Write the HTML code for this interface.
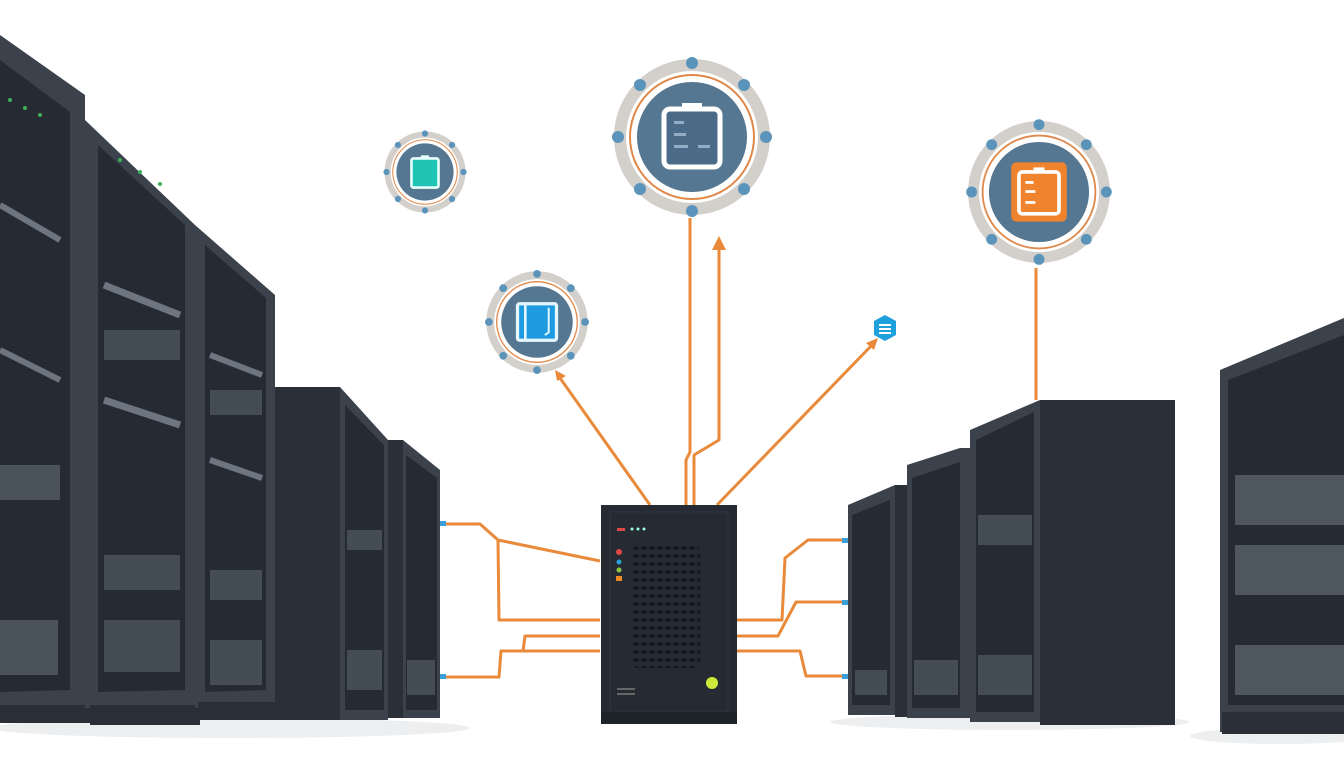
<!DOCTYPE html>
<html><head><meta charset="utf-8"><style>
html,body{margin:0;padding:0;background:#fff;width:1344px;height:768px;overflow:hidden}
svg{display:block}
</style></head><body>
<svg width="1344" height="768" viewBox="0 0 1344 768" xmlns="http://www.w3.org/2000/svg">
<defs>
<g id="node">
  <circle r="72" fill="none" stroke="#d3d0cb" stroke-width="12"/>
  <circle r="62" fill="none" stroke="#e0884a" stroke-width="2"/>
  <circle r="58" fill="#fff"/>
  <circle r="55" fill="#557792"/>
  <g fill="#5b94bb">
    <circle cx="0" cy="-74" r="6"/><circle cx="0" cy="74" r="6"/>
    <circle cx="-74" cy="0" r="6"/><circle cx="74" cy="0" r="6"/>
    <circle cx="-52" cy="-52" r="6"/><circle cx="52" cy="-52" r="6"/>
    <circle cx="-52" cy="52" r="6"/><circle cx="52" cy="52" r="6"/>
  </g>
</g>
<pattern id="grille" width="8" height="8" patternUnits="userSpaceOnUse">
  <rect width="8" height="8" fill="#262b33"/><ellipse cx="4" cy="4" rx="3" ry="2" fill="#15181d"/>
</pattern>
</defs>

<!-- floor shadows -->
<ellipse cx="230" cy="728" rx="240" ry="10" fill="#eceef0"/>
<ellipse cx="1010" cy="722" rx="180" ry="8" fill="#eceef0"/>
<ellipse cx="1280" cy="736" rx="90" ry="8" fill="#eceef0"/>

<!-- LEFT RACKS -->
<!-- rack 1 -->
<polygon points="0,35 85,95 85,708 0,712" fill="#3b424c"/>
<polygon points="0,60 70,112 70,690 0,692" fill="#262b33"/>
<g stroke="#6c7580" stroke-width="6"><line x1="0" y1="205" x2="60" y2="240"/><line x1="0" y1="350" x2="60" y2="380"/></g>
<g fill="#4a525c"><rect x="0" y="620" width="58" height="55"/><rect x="0" y="465" width="60" height="35"/></g>
<g fill="#3fae5a"><circle cx="10" cy="100" r="2"/><circle cx="25" cy="108" r="2"/><circle cx="40" cy="115" r="2"/></g>
<rect x="0" y="705" width="90" height="18" fill="#2a2f37"/>
<!-- rack 2 -->
<polygon points="85,120 195,225 195,708 85,708" fill="#3b424c"/>
<polygon points="98,145 185,225 185,690 98,692" fill="#262b33"/>
<g stroke="#6c7580" stroke-width="7"><line x1="104" y1="285" x2="180" y2="315"/><line x1="104" y1="400" x2="180" y2="425"/></g>
<g fill="#444c56"><rect x="104" y="330" width="76" height="30"/><rect x="104" y="555" width="76" height="35"/><rect x="104" y="620" width="76" height="52"/></g>
<g fill="#3fae5a"><circle cx="120" cy="160" r="2"/><circle cx="140" cy="172" r="2"/><circle cx="160" cy="184" r="2"/></g>
<rect x="90" y="705" width="110" height="20" fill="#2a2f37"/>
<!-- rack 3 -->
<polygon points="195,225 275,295 275,705 195,708" fill="#3b424c"/>
<polygon points="205,245 266,298 266,690 205,692" fill="#262b33"/>
<g stroke="#6c7580" stroke-width="6"><line x1="210" y1="355" x2="262" y2="375"/><line x1="210" y1="460" x2="262" y2="478"/></g>
<g fill="#444c56"><rect x="210" y="390" width="52" height="25"/><rect x="210" y="570" width="52" height="30"/><rect x="210" y="640" width="52" height="45"/></g>
<rect x="198" y="702" width="78" height="18" fill="#2a2f37"/>
<!-- rack 4 box -->
<polygon points="275,387 340,387 340,720 275,720" fill="#2b3038"/>
<polygon points="340,387 388,440 388,720 340,720" fill="#3b424c"/>
<polygon points="345,405 384,445 384,710 345,710" fill="#262b33"/>
<g fill="#444c56"><rect x="347" y="650" width="35" height="40"/><rect x="347" y="530" width="35" height="20"/></g>
<!-- rack 5 -->
<polygon points="388,440 403,440 403,718 388,718" fill="#2b3038"/>
<polygon points="403,440 440,470 440,718 403,718" fill="#3b424c"/>
<polygon points="406,455 437,478 437,710 406,710" fill="#262b33"/>
<rect x="407" y="660" width="28" height="35" fill="#444c56"/>

<!-- RIGHT RACKS -->
<polygon points="848,505 895,485 895,715 848,715" fill="#3b424c"/>
<polygon points="852,515 890,500 890,705 852,705" fill="#262b33"/>
<rect x="895" y="485" width="12" height="232" fill="#2b3038"/>
<polygon points="907,465 960,448 970,448 970,718 907,718" fill="#3b424c"/>
<polygon points="912,478 960,462 960,708 912,708" fill="#262b33"/>
<polygon points="970,430 1040,400 1040,722 970,722" fill="#3b424c"/>
<polygon points="976,440 1034,412 1034,712 976,712" fill="#262b33"/>
<rect x="1040" y="400" width="135" height="325" fill="#2b3038"/>
<g fill="#444c56"><rect x="855" y="670" width="32" height="25"/><rect x="914" y="660" width="44" height="35"/><rect x="978" y="655" width="54" height="40"/><rect x="978" y="515" width="54" height="30"/></g>
<!-- far right rack -->
<polygon points="1220,370 1344,318 1344,732 1220,732" fill="#3b424c"/>
<polygon points="1228,380 1344,335 1344,705 1228,705" fill="#262b33"/>
<g fill="#4e5660"><rect x="1235" y="475" width="109" height="50"/><rect x="1235" y="545" width="109" height="50"/><rect x="1235" y="645" width="109" height="50"/></g>
<rect x="1222" y="712" width="122" height="22" fill="#2a2f37"/>

<!-- CONNECTORS -->
<g fill="none" stroke="#e88a3a" stroke-width="3" stroke-linejoin="round">
  <polyline points="445,524 480,524 498,540 600,561"/>
  <polyline points="498,540 499,620 600,620"/>
  <polyline points="600,636 525,636 523,651"/>
  <polyline points="445,677 499,677 501,651 600,651"/>
  <polyline points="736,620 782,620 785,558 808,540 842,540"/>
  <polyline points="736,636 778,636 796,602 842,602"/>
  <polyline points="736,651 800,651 806,676 842,676"/>
  <polyline points="650,505 560,378"/>
  <polyline points="686,505 686,460 690,452 690,218"/>
  <polyline points="694,505 694,455 719,440 719,248"/>
  <polyline points="717,505 872,345"/>
  <polyline points="1036,400 1036,268"/>
</g>
<g fill="#e88a3a">
  <polygon points="712,250 726,250 719,236"/>
  <polygon points="555,370 566,376 557,381"/>
  <polygon points="878,338 866,343 874,350"/>
</g>
<g fill="#3aa0d8"><rect x="440" y="521" width="6" height="5"/><rect x="440" y="674" width="6" height="5"/><rect x="842" y="538" width="6" height="5"/><rect x="842" y="600" width="6" height="5"/><rect x="842" y="674" width="6" height="5"/></g>

<!-- CENTER SERVER -->
<rect x="601" y="505" width="136" height="218" fill="#252a33"/>
<rect x="610" y="512" width="118" height="200" fill="none" stroke="#30363f" stroke-width="1"/>
<rect x="632" y="546" width="68" height="122" rx="6" fill="url(#grille)"/>
<g><circle cx="619" cy="552" r="3" fill="#e04848"/><circle cx="619" cy="562" r="2.5" fill="#2aa0d8"/><circle cx="619" cy="570" r="2.5" fill="#8cc63f"/><rect x="616" y="576" width="6" height="5" fill="#f08a24"/>
<rect x="617" y="528" width="8" height="3" fill="#e04848"/><circle cx="632" cy="529" r="1.5" fill="#9fd"/><circle cx="638" cy="529" r="1.5" fill="#9fd"/><circle cx="644" cy="529" r="1.5" fill="#9fd"/></g>
<circle cx="712" cy="683" r="6" fill="#cde93a"/>
<rect x="617" y="688" width="18" height="2" fill="#666"/><rect x="617" y="693" width="18" height="2" fill="#666"/>
<rect x="601" y="712" width="136" height="12" fill="#1e2229"/>

<!-- NODES -->
<g transform="translate(692,137)"><use href="#node"/>
  <rect x="-28" y="-28" width="56" height="58" rx="6" fill="#4b6b88" stroke="#fff" stroke-width="5"/>
  <rect x="-10" y="-34" width="20" height="6" fill="#fff"/>
  <g fill="#93aec4"><rect x="-18" y="-16" width="10" height="3"/><rect x="-18" y="-4" width="12" height="3"/><rect x="-18" y="8" width="14" height="3"/><rect x="6" y="8" width="12" height="3"/></g>
</g>
<g transform="translate(1039,192) scale(0.91)"><use href="#node"/>
  <rect x="-30" y="-32" width="60" height="64" rx="5" fill="#f0832e" stroke="#f0832e"/>
  <rect x="-22" y="-22" width="44" height="46" rx="4" fill="none" stroke="#fff" stroke-width="4"/>
  <rect x="-6" y="-27" width="12" height="5" fill="#fff"/>
  <g fill="#fff"><rect x="-15" y="-12" width="9" height="3"/><rect x="-15" y="-2" width="11" height="3"/><rect x="-15" y="10" width="11" height="3"/></g>
</g>
<g transform="translate(425,172) scale(0.52)"><use href="#node"/>
  <rect x="-26" y="-26" width="52" height="56" rx="4" fill="#20c4b4" stroke="#e8fffb" stroke-width="5"/>
  <rect x="-8" y="-32" width="16" height="6" fill="#e8fffb"/>
</g>
<g transform="translate(537,322) scale(0.65)"><use href="#node"/>
  <rect x="-30" y="-28" width="60" height="56" rx="3" fill="#1e9ae0" stroke="#e6f6ff" stroke-width="5"/>
  <line x1="-18" y1="-28" x2="-18" y2="28" stroke="#e6f6ff" stroke-width="4"/>
  <polyline points="18,-22 18,16 12,20" fill="none" stroke="#e6f6ff" stroke-width="3"/>
</g>
<!-- hex -->
<polygon points="885,315 896,321 896,335 885,341 874,335 874,321" fill="#1ea0dc"/>
<g fill="#fff"><rect x="879" y="324" width="12" height="2"/><rect x="879" y="328" width="12" height="2"/><rect x="879" y="332" width="12" height="2"/></g>
</svg>
</body></html>
